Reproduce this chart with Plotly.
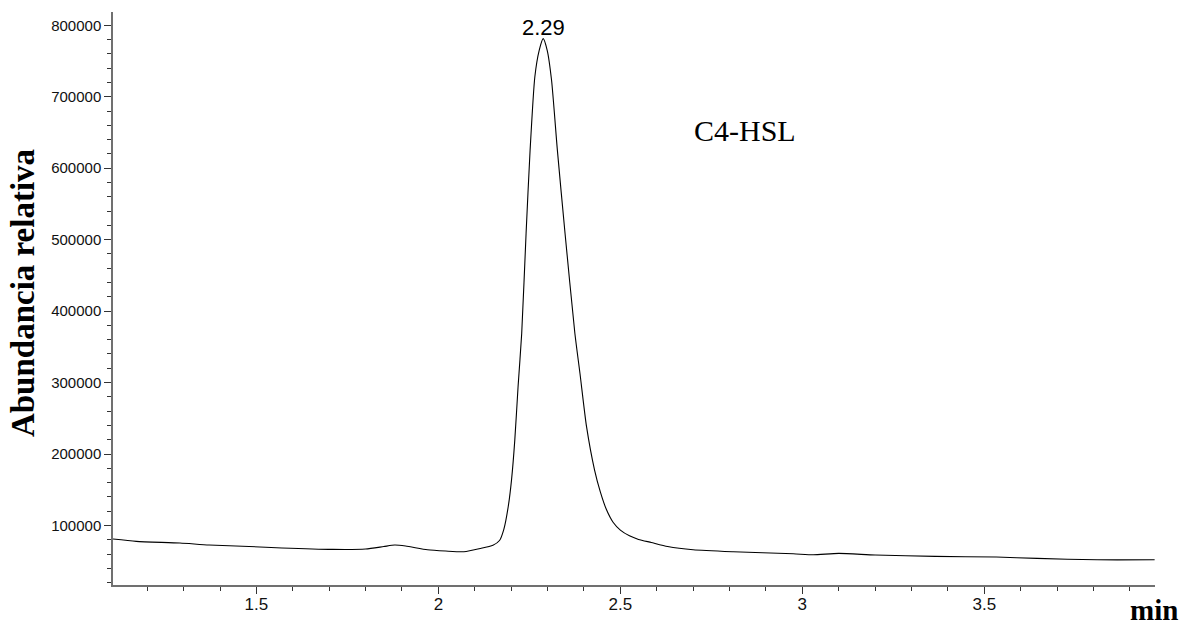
import plotly.graph_objects as go

# Retention time (min) and relative abundance
time_min = [1.106, 1.17, 1.29, 1.37, 1.48, 1.57, 1.71, 1.80, 1.85, 1.88, 1.91,
            1.97, 2.02, 2.07, 2.115, 2.15, 2.168, 2.180, 2.192, 2.201, 2.210, 2.219,
            2.229, 2.241, 2.252, 2.265, 2.277, 2.288, 2.299, 2.311, 2.327,
            2.348, 2.375, 2.389, 2.407, 2.429, 2.445, 2.462, 2.48, 2.50, 2.525, 2.55,
            2.585, 2.63, 2.70, 2.81, 2.975, 3.03, 3.10, 3.20, 3.365, 3.533, 3.645,
            3.81, 3.968]
abundance = [81000, 77800, 75400, 72600, 70600, 68500, 66500, 67000, 70500, 72600, 71200,
             66000, 64200, 63200, 67800, 72500, 79000, 95000, 126600, 163900, 219800, 294400,
             369000, 509000, 625000, 727700, 765000, 781400, 765000, 723000, 625000,
             509000, 369000, 313000, 238600, 177900, 147000, 121900, 104500, 93500, 85500, 80500,
             76200, 70600, 66000, 63200, 60400, 59000, 60900, 58600, 56700, 55800, 53900,
             52000, 52000]

x_ticks = [1.5, 2, 2.5, 3, 3.5]
x_tick_labels = ["1.5", "2", "2.5", "3", "3.5"]
y_ticks = [100000, 200000, 300000, 400000, 500000, 600000, 700000, 800000]
y_tick_labels = ["100000", "200000", "300000", "400000", "500000", "600000", "700000", "800000"]

peak_time = 2.288
peak_value = 781400
peak_label = "2.29"
compound_label = "C4-HSL"
y_title = "Abundancia relativa"
x_title = "min"

x_range = [1.106, 3.969]
y_range = [16700, 818600]

axis_color = "#707070"

fig = go.Figure()
fig.add_trace(go.Scatter(
    x=time_min, y=abundance, mode="lines",
    line=dict(color="black", width=1.1, shape="spline", smoothing=0.6),
    hoverinfo="x+y", showlegend=False,
))

fig.update_layout(
    width=1186, height=628,
    margin=dict(l=113, r=31, t=12, b=43),
    paper_bgcolor="white", plot_bgcolor="white",
    xaxis=dict(
        range=x_range, showgrid=False, zeroline=False,
        showline=True, linecolor=axis_color, linewidth=1.5,
        tickmode="array", tickvals=x_ticks, ticktext=x_tick_labels,
        ticks="outside", ticklen=7, tickwidth=1, tickcolor="#333",
        ticklabelstandoff=-4,
        tickfont=dict(family="Liberation Sans, Arial", size=17, color="#111"),
        minor=dict(dtick=0.1, tick0=1.0, ticks="outside", ticklen=4,
                   tickwidth=1, tickcolor="#333", showgrid=False),
    ),
    yaxis=dict(
        range=y_range, showgrid=False, zeroline=False,
        showline=True, linecolor=axis_color, linewidth=1.5,
        tickmode="array", tickvals=y_ticks, ticktext=y_tick_labels,
        ticks="outside", ticklen=7, tickwidth=1, tickcolor="#333",
        tickfont=dict(family="Liberation Sans, Arial", size=15, color="#111"),
        minor=dict(dtick=20000, tick0=0, ticks="outside", ticklen=4,
                   tickwidth=1, tickcolor="#333", showgrid=False),
    ),
    annotations=[
        dict(x=peak_time, y=peak_value, xref="x", yref="y", text=peak_label,
             showarrow=False, yanchor="bottom", yshift=-3,
             font=dict(family="Liberation Sans, Arial", size=22, color="black")),
        dict(x=2.842, y=653000, xref="x", yref="y", text=compound_label,
             showarrow=False, xanchor="center", yanchor="middle",
             font=dict(family="Liberation Serif, Times New Roman", size=30, color="black")),
        dict(x=0.999, y=-0.073, xref="paper", yref="paper", text="<b>%s</b>" % x_title,
             showarrow=False, xanchor="center", yanchor="bottom", borderpad=0,
             font=dict(family="Liberation Serif, Times New Roman", size=29, color="black")),
        dict(x=-0.087, y=0.51, xref="paper", yref="paper", text="<b>%s</b>" % y_title,
             showarrow=False, xanchor="center", yanchor="middle", textangle=-90,
             font=dict(family="Liberation Serif, Times New Roman", size=33, color="black")),
    ],
)

fig.write_html(
    "out.html",
    config={"displayModeBar": False},
    post_script="document.body.style.margin='0';document.body.style.overflow='hidden';",
)
